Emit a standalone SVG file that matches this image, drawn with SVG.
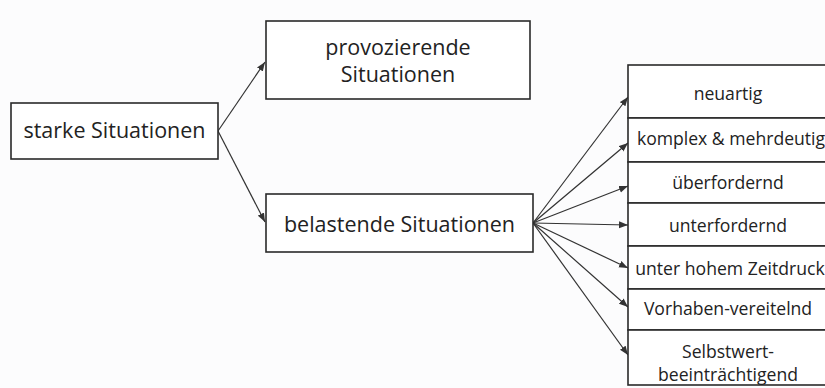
<svg xmlns="http://www.w3.org/2000/svg" width="825" height="388" viewBox="0 0 825 388">
<style>
.box{fill:#fff;stroke:#2a2a2a;stroke-width:1.6}
.big{font-family:"Open Sans","Liberation Sans",sans-serif;font-size:21.5px;fill:#222;text-anchor:middle}
.sm{font-family:"Open Sans","Liberation Sans",sans-serif;font-size:17.6px;fill:#222;text-anchor:middle}
.con{stroke:#333;stroke-width:1.2;fill:none;marker-end:url(#ah)}
</style>
<defs>
<marker id="ah" markerUnits="userSpaceOnUse" markerWidth="10" markerHeight="8" refX="9" refY="4" orient="auto">
<path d="M0,0.5 L9,4 L0,7.5 Z" fill="#333"/>
</marker>
</defs>
<rect width="825" height="388" fill="#fcfcfd"/>
<g id="connectors">
<line class="con" x1="218" y1="131" x2="265" y2="62"/>
<line class="con" x1="218" y1="131" x2="265" y2="222"/>
<line class="con" x1="533" y1="223" x2="628" y2="97"/>
<line class="con" x1="533" y1="223" x2="628" y2="143"/>
<line class="con" x1="533" y1="223" x2="628" y2="186"/>
<line class="con" x1="533" y1="223" x2="628" y2="225"/>
<line class="con" x1="533" y1="223" x2="628" y2="268"/>
<line class="con" x1="533" y1="223" x2="628" y2="307"/>
<line class="con" x1="533" y1="223" x2="628" y2="355"/>
</g>
<g id="starke">
<rect class="box" x="11" y="103" width="207" height="56"/>
<text class="big" x="114.5" y="138">starke Situationen</text>
</g>
<g id="provozierende">
<rect class="box" x="266" y="21" width="264" height="78"/>
<text class="big" x="398" y="55">provozierende</text>
<text class="big" x="398" y="82">Situationen</text>
</g>
<g id="belastende">
<rect class="box" x="266" y="194" width="267" height="58"/>
<text class="big" x="399.5" y="232">belastende Situationen</text>
</g>
<g id="neuartig">
<rect class="box" x="628" y="65" width="199" height="53"/>
<text class="sm" x="728" y="100">neuartig</text>
</g>
<g id="komplex">
<rect class="box" x="628" y="118" width="199" height="44"/>
<text class="sm" x="731" y="145">komplex &amp; mehrdeutig</text>
</g>
<g id="ueberfordernd">
<rect class="box" x="628" y="162" width="199" height="41"/>
<text class="sm" x="728" y="189">überfordernd</text>
</g>
<g id="unterfordernd">
<rect class="box" x="628" y="203" width="199" height="43"/>
<text class="sm" x="728" y="232">unterfordernd</text>
</g>
<g id="zeitdruck">
<rect class="box" x="628" y="246" width="199" height="43"/>
<text class="sm" x="730" y="275">unter hohem Zeitdruck</text>
</g>
<g id="vorhaben">
<rect class="box" x="628" y="289" width="199" height="41"/>
<text class="sm" x="728" y="315">Vorhaben-vereitelnd</text>
</g>
<g id="selbstwert">
<rect class="box" x="628" y="330" width="199" height="55"/>
<text class="sm" x="728" y="358">Selbstwert-</text>
<text class="sm" x="728" y="381">beeinträchtigend</text>
</g>
</svg>
